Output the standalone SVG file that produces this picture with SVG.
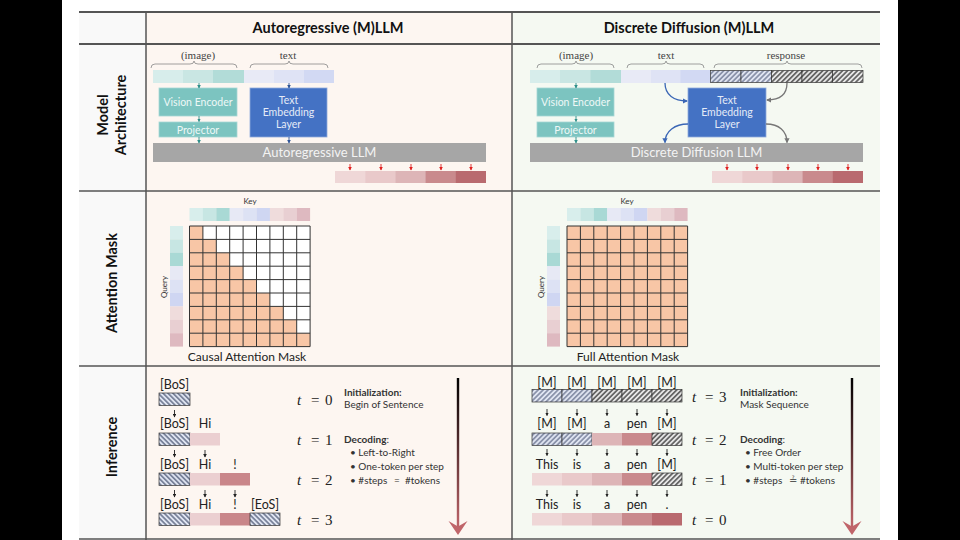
<svg xmlns="http://www.w3.org/2000/svg" width="960" height="540" viewBox="0 0 960 540">
<style>
.sans{font-family:Lato,"Open Sans","Liberation Sans",sans-serif}
.serif{font-family:"Liberation Serif","DejaVu Serif",serif}
.hdr{font-family:Lato,"Open Sans",sans-serif;font-weight:bold;font-size:14.5px;fill:#111;text-anchor:middle}
.rowlbl{font-family:Lato,"Open Sans",sans-serif;font-weight:bold;font-size:14.5px;fill:#111;text-anchor:middle}
.lbl{font-family:"Liberation Serif",serif;font-size:11px;fill:#444;text-anchor:middle}
.box{font-family:Lato,"Open Sans",sans-serif;font-size:10.5px;text-anchor:middle}
.bar{font-family:Lato,"Open Sans",sans-serif;font-size:13px;fill:#f3f3f3;text-anchor:middle}
.tok{font-family:Lato,"Open Sans",sans-serif;font-size:12.5px;fill:#222;text-anchor:middle}
.tl{font-family:"Liberation Serif",serif;font-size:15px;fill:#222}
.note{font-family:Lato,"Open Sans",sans-serif;font-size:10px;fill:#333}
.small{font-family:Lato,"Open Sans",sans-serif;font-size:8px;fill:#333;text-anchor:middle}
.cap{font-family:Lato,"Open Sans",sans-serif;font-size:12px;fill:#222;text-anchor:middle}
.sa{stroke:#222;stroke-width:0.9;fill:none;marker-end:url(#mk)}
.ta{stroke:#2f8f8a;stroke-width:0.9;fill:none;marker-end:url(#mt)}
.ba{stroke:#2f5597;stroke-width:0.9;fill:none;marker-end:url(#mb)}
.ra{stroke:#e02020;stroke-width:0.9;fill:none;marker-end:url(#mr)}
.cb{stroke:#3a66b5;stroke-width:1.3;fill:none;marker-end:url(#mcb)}
.cg{stroke:#777;stroke-width:1.3;fill:none;marker-end:url(#mcg)}
.brace{stroke:#888;stroke-width:0.8;fill:none}
.tb{stroke:#555;stroke-width:2}
.tn{stroke:#555;stroke-width:1.5}
.hcell{stroke:#333;stroke-width:0.7}
</style>
<defs>
<marker id="mk" viewBox="0 0 6 6" refX="5" refY="3" markerWidth="4" markerHeight="4" orient="auto"><path d="M0,0L6,3L0,6z" fill="#222"/></marker>
<marker id="mt" viewBox="0 0 6 6" refX="5" refY="3" markerWidth="4" markerHeight="4" orient="auto"><path d="M0,0L6,3L0,6z" fill="#2f8f8a"/></marker>
<marker id="mb" viewBox="0 0 6 6" refX="5" refY="3" markerWidth="4" markerHeight="4" orient="auto"><path d="M0,0L6,3L0,6z" fill="#2f5597"/></marker>
<marker id="mr" viewBox="0 0 6 6" refX="5" refY="3" markerWidth="4" markerHeight="4" orient="auto"><path d="M0,0L6,3L0,6z" fill="#e02020"/></marker>
<marker id="mcb" viewBox="0 0 6 6" refX="5" refY="3" markerWidth="4" markerHeight="4" orient="auto"><path d="M0,0L6,3L0,6z" fill="#3a66b5"/></marker>
<marker id="mcg" viewBox="0 0 6 6" refX="5" refY="3" markerWidth="4" markerHeight="4" orient="auto"><path d="M0,0L6,3L0,6z" fill="#777"/></marker>
<pattern id="hbB" patternUnits="userSpaceOnUse" width="3.5" height="3.5" patternTransform="rotate(-45)"><rect width="3.5" height="3.5" fill="#dfe4f1"/><line x1="1.75" y1="0" x2="1.75" y2="3.5" stroke="#3d4866" stroke-width="1.1"/></pattern>
<pattern id="hfB" patternUnits="userSpaceOnUse" width="3.5" height="3.5" patternTransform="rotate(45)"><rect width="3.5" height="3.5" fill="#dfe4f1"/><line x1="1.75" y1="0" x2="1.75" y2="3.5" stroke="#4a5575" stroke-width="1"/></pattern>
<pattern id="hfG" patternUnits="userSpaceOnUse" width="3.5" height="3.5" patternTransform="rotate(45)"><rect width="3.5" height="3.5" fill="#e6e6e6"/><line x1="1.75" y1="0" x2="1.75" y2="3.5" stroke="#2a2a2a" stroke-width="1.2"/></pattern>
<linearGradient id="tg" x1="0" y1="0" x2="0" y2="1"><stop offset="0" stop-color="#000"/><stop offset="1" stop-color="#c0656a"/></linearGradient>
<path id="grid" d="M0 0V120.6M13.4 0V120.6M26.8 0V120.6M40.2 0V120.6M53.6 0V120.6M67 0V120.6M80.4 0V120.6M93.8 0V120.6M107.2 0V120.6M120.6 0V120.6M0 0H120.6M0 13.4H120.6M0 26.8H120.6M0 40.2H120.6M0 53.6H120.6M0 67H120.6M0 80.4H120.6M0 93.8H120.6M0 107.2H120.6M0 120.6H120.6" fill="none" stroke="#333" stroke-width="1"/>
<g id="keystrip">
<rect x="0" y="0" width="13.5" height="13" fill="#d8eeec"/><rect x="13.4" y="0" width="13.5" height="13" fill="#c7e6e3"/><rect x="26.8" y="0" width="13.5" height="13" fill="#a9d9d5"/>
<rect x="40.2" y="0" width="13.5" height="13" fill="#e7e9f5"/><rect x="53.6" y="0" width="13.5" height="13" fill="#dde2f4"/><rect x="67" y="0" width="13.5" height="13" fill="#cfd6f2"/>
<rect x="80.4" y="0" width="13.5" height="13" fill="#efdcdc"/><rect x="93.8" y="0" width="13.5" height="13" fill="#e8cfd2"/><rect x="107.2" y="0" width="13.4" height="13" fill="#deb9c0"/>
</g>
<g id="querystrip">
<rect x="0" y="0" width="13" height="13.5" fill="#d8eeec"/><rect x="0" y="13.4" width="13" height="13.5" fill="#c7e6e3"/><rect x="0" y="26.8" width="13" height="13.5" fill="#a9d9d5"/>
<rect x="0" y="40.2" width="13" height="13.5" fill="#e7e9f5"/><rect x="0" y="53.6" width="13" height="13.5" fill="#dde2f4"/><rect x="0" y="67" width="13" height="13.5" fill="#cfd6f2"/>
<rect x="0" y="80.4" width="13" height="13.5" fill="#efdcdc"/><rect x="0" y="93.8" width="13" height="13.5" fill="#e8cfd2"/><rect x="0" y="107.2" width="13" height="13.4" fill="#deb9c0"/>
</g>
<g id="outstrip">
<rect x="0" y="0" width="30.6" height="12" fill="#efd7d7"/><rect x="30.2" y="0" width="30.6" height="12" fill="#e9c9ca"/><rect x="60.4" y="0" width="30.6" height="12" fill="#ddb5b7"/><rect x="90.6" y="0" width="30.6" height="12" fill="#c98a8d"/><rect x="120.8" y="0" width="30.2" height="12" fill="#b96a6f"/>
</g>
</defs>

<!-- page -->
<rect x="0" y="0" width="960" height="540" fill="#000"/>
<rect x="62" y="0" width="836" height="540" fill="#fff"/>
<rect x="79" y="12" width="67" height="527" fill="#f9f9f9"/>
<rect x="146" y="12" width="366" height="527" fill="#fdf6f1"/>
<rect x="512" y="12" width="368" height="527" fill="#f5f9f2"/>

<!-- table lines -->
<g id="table">
<line class="tb" x1="79" y1="12" x2="880" y2="12"/>
<line class="tb" x1="79" y1="44" x2="880" y2="44"/>
<line class="tn" x1="79" y1="191" x2="880" y2="191"/>
<line class="tn" x1="79" y1="366" x2="880" y2="366"/>
<line class="tn" x1="79" y1="539" x2="880" y2="539"/>
<line class="tn" x1="146" y1="12" x2="146" y2="540"/>
<line class="tn" x1="512" y1="12" x2="512" y2="540"/>
</g>

<!-- headers -->
<text class="hdr" x="328" y="33">Autoregressive (M)LLM</text>
<text class="hdr" x="689" y="33">Discrete Diffusion (M)LLM</text>
<text class="rowlbl" transform="translate(108,115) rotate(-90)">Model</text>
<text class="rowlbl" transform="translate(126,115) rotate(-90)">Architecture</text>
<text class="rowlbl" transform="translate(117,283) rotate(-90)">Attention Mask</text>
<text class="rowlbl" transform="translate(117,447) rotate(-90)">Inference</text>

<!-- ===== Left architecture ===== -->
<g id="ar-arch">
<text class="lbl" x="198" y="59">(image)</text>
<text class="lbl" x="288" y="59">text</text>
<path class="brace" d="M151,68Q151,64 155,64L190,64Q194,64 194,61Q194,64 198,64L233,64Q237,64 237,68"/>
<path class="brace" d="M250,68Q250,64 254,64L285,64Q289,64 289,61Q289,64 293,64L324,64Q328,64 328,68"/>
<rect x="153" y="70" width="30.5" height="13" fill="#d7edeb"/>
<rect x="183" y="70" width="30.5" height="13" fill="#c9e6e3"/>
<rect x="213" y="70" width="31" height="13" fill="#b2dcd8"/>
<rect x="244" y="70" width="30.5" height="13" fill="#e8eaf6"/>
<rect x="274" y="70" width="30.5" height="13" fill="#dfe3f5"/>
<rect x="304" y="70" width="30" height="13" fill="#d2d9f3"/>
</g>
<g id="ar-ve"><rect x="159" y="88" width="78" height="28" fill="#7cc4c0" stroke="#a6d8d5" stroke-width="0.8"/><text class="box" x="198" y="105.5" fill="#eef8f7">Vision Encoder</text></g>
<g id="ar-proj"><rect x="159" y="122" width="78" height="15" fill="#7cc4c0" stroke="#a6d8d5" stroke-width="0.8"/><text class="box" x="198" y="133.5" fill="#eef8f7">Projector</text></g>
<g id="ar-tel"><rect x="250" y="88" width="77" height="49" fill="#4472c4" stroke="#8faadc" stroke-width="0.8"/><text class="box" x="288.5" y="104" fill="#e4ebf7">Text</text><text class="box" x="288.5" y="116" fill="#e4ebf7">Embedding</text><text class="box" x="288.5" y="128" fill="#e4ebf7">Layer</text></g>
<g id="ar-llm"><rect x="153" y="143" width="333" height="19" fill="#a6a6a6"/><text class="bar" x="319.5" y="157">Autoregressive LLM</text></g>
<g id="ar-out"><use href="#outstrip" x="335" y="171"/></g>

<!-- ===== Right architecture ===== -->
<g id="dd-arch">
<text class="lbl" x="576" y="59">(image)</text>
<text class="lbl" x="666" y="59">text</text>
<text class="lbl" x="786" y="59">response</text>
<path class="brace" d="M537,68Q537,64 541,64L572,64Q576,64 576,61Q576,64 580,64L610,64Q614,64 614,68"/>
<path class="brace" d="M627,68Q627,64 631,64L662,64Q666,64 666,61Q666,64 670,64L700,64Q704,64 704,68"/>
<path class="brace" d="M714,68Q714,64 718,64L783,64Q787,64 787,61Q787,64 791,64L858,64Q862,64 862,68"/>
<rect x="530" y="70" width="30.5" height="13" fill="#d7edeb"/>
<rect x="560" y="70" width="31" height="13" fill="#c9e6e3"/>
<rect x="590.5" y="70" width="31" height="13" fill="#b2dcd8"/>
<rect x="621" y="70" width="30.5" height="13" fill="#e8eaf6"/>
<rect x="651" y="70" width="30" height="13" fill="#dfe3f5"/>
<rect x="680.5" y="70" width="30" height="13" fill="#d2d9f3"/>
<rect class="hcell" x="710.5" y="70.5" width="30.5" height="12" fill="url(#hfB)"/>
<rect class="hcell" x="741" y="70.5" width="30.5" height="12" fill="url(#hfB)"/>
<rect class="hcell" x="771.5" y="70.5" width="30.5" height="12" fill="url(#hfG)"/>
<rect class="hcell" x="802" y="70.5" width="30.5" height="12" fill="url(#hfG)"/>
<rect class="hcell" x="832.5" y="70.5" width="30.5" height="12" fill="url(#hfG)"/>
</g>
<g id="dd-ve"><rect x="537" y="88" width="77" height="28" fill="#7cc4c0" stroke="#a6d8d5" stroke-width="0.8"/><text class="box" x="575.5" y="105.5" fill="#eef8f7">Vision Encoder</text></g>
<g id="dd-proj"><rect x="537" y="122" width="77" height="15" fill="#7cc4c0" stroke="#a6d8d5" stroke-width="0.8"/><text class="box" x="575.5" y="133.5" fill="#eef8f7">Projector</text></g>
<g id="dd-tel"><rect x="688" y="88" width="78" height="49" fill="#4472c4" stroke="#8faadc" stroke-width="0.8"/><text class="box" x="727" y="104" fill="#e4ebf7">Text</text><text class="box" x="727" y="116" fill="#e4ebf7">Embedding</text><text class="box" x="727" y="128" fill="#e4ebf7">Layer</text></g>
<g id="dd-llm"><rect x="530" y="143" width="333" height="19" fill="#a6a6a6"/><text class="bar" x="696.5" y="157">Discrete Diffusion LLM</text></g>
<g id="dd-out"><use href="#outstrip" x="712" y="171"/></g>

<!-- ===== Attention masks ===== -->
<g id="ar-mask">
<text class="small" x="250" y="204">Key</text>
<use href="#keystrip" x="189.5" y="208"/>
<use href="#querystrip" x="170" y="226"/>
<text class="small" transform="translate(167,287) rotate(-90)">Query</text>
<rect x="189.5" y="226" width="120.6" height="120.6" fill="#fff"/>
<g fill="#f8c6a6">
<rect x="189.5" y="226" width="13.4" height="13.4"/>
<rect x="189.5" y="239.4" width="26.8" height="13.4"/>
<rect x="189.5" y="252.8" width="40.2" height="13.4"/>
<rect x="189.5" y="266.2" width="53.6" height="13.4"/>
<rect x="189.5" y="279.6" width="67" height="13.4"/>
<rect x="189.5" y="293" width="80.4" height="13.4"/>
<rect x="189.5" y="306.4" width="93.8" height="13.4"/>
<rect x="189.5" y="319.8" width="107.2" height="13.4"/>
<rect x="189.5" y="333.2" width="120.6" height="13.4"/>
</g>
<use href="#grid" x="189.5" y="226"/>
<text class="cap" x="247" y="361">Causal Attention Mask</text>
</g>
<g id="dd-mask">
<text class="small" x="627" y="204">Key</text>
<use href="#keystrip" x="567" y="208"/>
<use href="#querystrip" x="547" y="226"/>
<text class="small" transform="translate(544,287) rotate(-90)">Query</text>
<rect x="567" y="226" width="120.6" height="120.6" fill="#f8c6a6"/>
<use href="#grid" x="567" y="226"/>
<text class="cap" x="628" y="361">Full Attention Mask</text>
</g>

<!-- ===== Inference left ===== -->
<g id="ar-inf">
<text class="tok" x="174.5" y="389">[BoS]</text>
<rect class="hcell" x="159" y="393" width="31" height="12.5" fill="url(#hbB)"/>
<text class="tok" x="174.5" y="428">[BoS]</text><text class="tok" x="205" y="428">Hi</text>
<rect class="hcell" x="159" y="433" width="31" height="12.5" fill="url(#hbB)"/>
<rect x="190" y="433" width="30" height="12.5" fill="#ebcfd1"/>
<text class="tok" x="174.5" y="469">[BoS]</text><text class="tok" x="205" y="469">Hi</text><text class="tok" x="235" y="469">!</text>
<rect class="hcell" x="159" y="473" width="31" height="12.5" fill="url(#hbB)"/>
<rect x="190" y="473" width="30" height="12.5" fill="#ebcfd1"/>
<rect x="220" y="473" width="30" height="12.5" fill="#c9868a"/>
<text class="tok" x="174.5" y="509">[BoS]</text><text class="tok" x="205" y="509">Hi</text><text class="tok" x="235" y="509">!</text><text class="tok" x="265" y="509">[EoS]</text>
<rect class="hcell" x="159" y="513" width="31" height="12.5" fill="url(#hbB)"/>
<rect x="190" y="513" width="30" height="12.5" fill="#ebcfd1"/>
<rect x="220" y="513" width="30" height="12.5" fill="#c9868a"/>
<rect class="hcell" x="250" y="513" width="30" height="12.5" fill="url(#hbB)"/>
<text class="tl" x="297" y="405"><tspan font-style="italic">t</tspan><tspan x="311">=</tspan><tspan x="325">0</tspan></text>
<text class="tl" x="297" y="445"><tspan font-style="italic">t</tspan><tspan x="311">=</tspan><tspan x="325">1</tspan></text>
<text class="tl" x="297" y="485"><tspan font-style="italic">t</tspan><tspan x="311">=</tspan><tspan x="325">2</tspan></text>
<text class="tl" x="297" y="525"><tspan font-style="italic">t</tspan><tspan x="311">=</tspan><tspan x="325">3</tspan></text>
<text class="note" x="344" y="396" font-weight="bold">Initialization:</text>
<text class="note" x="344" y="408">Begin of Sentence</text>
<text class="note" x="344" y="443"><tspan font-weight="bold">Decoding</tspan>:</text>
<text class="note" x="350" y="456">• Left-to-Right</text>
<text class="note" x="350" y="470">• One-token per step</text>
<text class="note" x="350" y="484">• #steps<tspan x="394">=</tspan><tspan x="405">#tokens</tspan></text>
<rect x="456.8" y="378" width="2.4" height="150" fill="url(#tg)"/>
<path d="M448.5,521L458,535L467.5,521L458,526.5Z" fill="#c0656a"/>
</g>

<!-- ===== Inference right ===== -->
<g id="dd-inf">
<text class="tok" x="547" y="387">[M]</text><text class="tok" x="577" y="387">[M]</text><text class="tok" x="607" y="387">[M]</text><text class="tok" x="637" y="387">[M]</text><text class="tok" x="667" y="387">[M]</text>
<rect class="hcell" x="532" y="389.5" width="30" height="12.5" fill="url(#hfB)"/>
<rect class="hcell" x="562" y="389.5" width="30" height="12.5" fill="url(#hfB)"/>
<rect class="hcell" x="592" y="389.5" width="30" height="12.5" fill="url(#hfG)"/>
<rect class="hcell" x="622" y="389.5" width="30" height="12.5" fill="url(#hfG)"/>
<rect class="hcell" x="652" y="389.5" width="30" height="12.5" fill="url(#hfG)"/>
<text class="tok" x="547" y="428">[M]</text><text class="tok" x="577" y="428">[M]</text><text class="tok" x="607" y="428">a</text><text class="tok" x="637" y="428">pen</text><text class="tok" x="667" y="428">[M]</text>
<rect class="hcell" x="532" y="433" width="30" height="12.5" fill="url(#hfB)"/>
<rect class="hcell" x="562" y="433" width="30" height="12.5" fill="url(#hfB)"/>
<rect x="592" y="433" width="30" height="12.5" fill="#ddb5b7"/>
<rect x="622" y="433" width="30" height="12.5" fill="#c98a8d"/>
<rect class="hcell" x="652" y="433" width="30" height="12.5" fill="url(#hfG)"/>
<text class="tok" x="547" y="469">This</text><text class="tok" x="577" y="469">is</text><text class="tok" x="607" y="469">a</text><text class="tok" x="637" y="469">pen</text><text class="tok" x="667" y="469">[M]</text>
<rect x="532" y="473" width="30" height="12.5" fill="#efd7d7"/>
<rect x="562" y="473" width="30" height="12.5" fill="#e9c9ca"/>
<rect x="592" y="473" width="30" height="12.5" fill="#ddb5b7"/>
<rect x="622" y="473" width="30" height="12.5" fill="#c98a8d"/>
<rect class="hcell" x="652" y="473" width="30" height="12.5" fill="url(#hfG)"/>
<text class="tok" x="547" y="509">This</text><text class="tok" x="577" y="509">is</text><text class="tok" x="607" y="509">a</text><text class="tok" x="637" y="509">pen</text><text class="tok" x="667" y="509">.</text>
<rect x="532" y="513" width="30" height="12.5" fill="#efd7d7"/>
<rect x="562" y="513" width="30" height="12.5" fill="#e9c9ca"/>
<rect x="592" y="513" width="30" height="12.5" fill="#ddb5b7"/>
<rect x="622" y="513" width="30" height="12.5" fill="#c98a8d"/>
<rect x="652" y="513" width="30" height="12.5" fill="#b96a6f"/>
<text class="tl" x="692" y="402"><tspan font-style="italic">t</tspan><tspan x="705">=</tspan><tspan x="719">3</tspan></text>
<text class="tl" x="692" y="445"><tspan font-style="italic">t</tspan><tspan x="705">=</tspan><tspan x="719">2</tspan></text>
<text class="tl" x="692" y="485"><tspan font-style="italic">t</tspan><tspan x="705">=</tspan><tspan x="719">1</tspan></text>
<text class="tl" x="692" y="525"><tspan font-style="italic">t</tspan><tspan x="705">=</tspan><tspan x="719">0</tspan></text>
<text class="note" x="740" y="396" font-weight="bold">Initialization:</text>
<text class="note" x="740" y="408">Mask Sequence</text>
<text class="note" x="740" y="443"><tspan font-weight="bold">Decoding</tspan>:</text>
<text class="note" x="745" y="456">• Free Order</text>
<text class="note" x="745" y="470">• Multi-token per step</text>
<text class="note" x="745" y="484">• #steps<tspan x="789" font-family="'DejaVu Sans',sans-serif">≟</tspan><tspan x="800">#tokens</tspan></text>
<rect x="850.8" y="378" width="2.4" height="150" fill="url(#tg)"/>
<path d="M842.5,521L852,535L861.5,521L852,526.5Z" fill="#c0656a"/>
</g>

<!-- ===== connectors ===== -->
<g id="connectors">
<path class="ta" d="M199,83V88"/><path class="ta" d="M199,116V121.5"/><path class="ta" d="M199,137V143"/>
<path class="ba" d="M289,83V88"/><path class="ba" d="M289,137V143"/>
<path class="ta" d="M576,83V88"/><path class="ta" d="M576,116V121.5"/><path class="ta" d="M576,137V143"/>
<path class="cb" d="M665,83C665,95 674,101 687,101"/>
<path class="cg" d="M787,83C787,94 780,100 767,100"/>
<path class="cb" d="M688,124C675,124 665,131 665,142.5"/>
<path class="cg" d="M766,124C779,124 787,131 787,142.5"/>
<path class="ra" d="M350,164V170"/><path class="ra" d="M381,164V170"/><path class="ra" d="M411,164V170"/><path class="ra" d="M441,164V170"/><path class="ra" d="M471,164V170"/>
<path class="ra" d="M727,164V170"/><path class="ra" d="M757,164V170"/><path class="ra" d="M788,164V170"/><path class="ra" d="M818,164V170"/><path class="ra" d="M848,164V170"/>
<path class="sa" d="M174.5,410V417"/>
<path class="sa" d="M174.5,450V457"/><path class="sa" d="M205,450V457"/>
<path class="sa" d="M174.5,490V497"/><path class="sa" d="M205,490V497"/><path class="sa" d="M235,490V497"/>
<path class="sa" d="M547,409V415.5"/><path class="sa" d="M577,409V415.5"/><path class="sa" d="M607,409V415.5"/><path class="sa" d="M637,409V415.5"/><path class="sa" d="M667,409V415.5"/>
<path class="sa" d="M547,449V455.5"/><path class="sa" d="M577,449V455.5"/><path class="sa" d="M607,449V455.5"/><path class="sa" d="M637,449V455.5"/><path class="sa" d="M667,449V455.5"/>
<path class="sa" d="M547,490V496.5"/><path class="sa" d="M577,490V496.5"/><path class="sa" d="M607,490V496.5"/><path class="sa" d="M637,490V496.5"/><path class="sa" d="M667,490V496.5"/>
</g>
</svg>
